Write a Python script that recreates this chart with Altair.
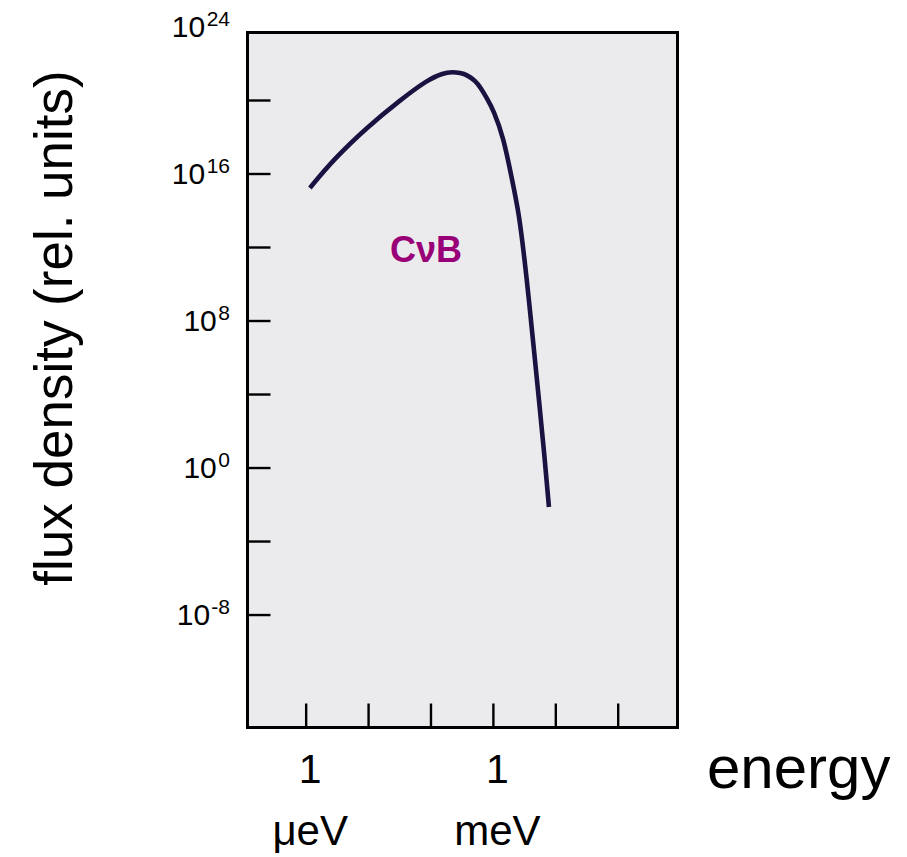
import altair as alt
import pandas as pd

# ---- data (log10 values) ----
energy_log10 = [-5.94, -5.57, -5.02, -4.49, -4.06, -3.80, -3.66, -3.53, -3.42,
                -3.29, -3.21, -3.10, -3.00, -2.84, -2.71, -2.59, -2.50, -2.43,
                -2.35, -2.27, -2.19, -2.11]
flux_log10 = [15.24, 16.76, 18.56, 20.03, 21.12, 21.50, 21.55, 21.50, 21.39,
              21.07, 20.73, 20.10, 19.48, 18.01, 15.84, 13.88, 11.32, 9.14,
              6.42, 3.70, 0.98, -2.12]

ytick_exps = [20, 16, 12, 8, 4, 0, -4, -8]
ylabel_exps = ["24", "16", "8", "0", "-8"]
xtick_exps = [-6, -5, -4, -3, -2, -1]
xlabel_vals = [1e-6, 1e-3]
xlabel_nums = ["1", "1"]
xlabel_units = ["μeV", "meV"]
annotation = "CνB"

W, H = 430, 695
FONT = "Liberation Sans"

curve = pd.DataFrame({"energy": [10 ** e for e in energy_log10],
                      "flux": [10 ** f for f in flux_log10]})
yticks = pd.DataFrame({"flux": [10.0 ** e for e in ytick_exps]})
ylabels = pd.DataFrame({"flux": [10.0 ** int(e) for e in ylabel_exps], "exp": ylabel_exps})
xticks = pd.DataFrame({"energy": [10.0 ** e for e in xtick_exps]})
xlabels = pd.DataFrame({"energy": xlabel_vals, "num": xlabel_nums, "unit": xlabel_units})
one = pd.DataFrame({"t": [0]})

xs = alt.Scale(type="log", domain=[10 ** -6.94, 10 ** -0.05], nice=False)
ys = alt.Scale(type="log", domain=[10 ** -14.12, 10 ** 23.70], nice=False)

line = alt.Chart(curve).mark_line(color="#1a1240", strokeWidth=4.6,
                                  interpolate="basis").encode(
    x=alt.X("energy:Q", scale=xs, axis=None),
    y=alt.Y("flux:Q", scale=ys, axis=None),
)

ytick_marks = alt.Chart(yticks).mark_rule(color="black", strokeWidth=2.4).encode(
    y=alt.Y("flux:Q", scale=ys, axis=None),
    x=alt.value(0), x2=alt.value(23),
)

xtick_marks = alt.Chart(xticks).mark_rule(color="black", strokeWidth=2.4).encode(
    x=alt.X("energy:Q", scale=xs, axis=None),
    y=alt.value(H - 24), y2=alt.value(H),
)

ylab_base = alt.Chart(ylabels).transform_calculate(
    w="length(datum.exp) * 11.7 - (indexof(datum.exp, '-') >= 0 ? 5 : 0)",
    xpos="-17.5 - datum.w - 1.5",
    ten="'10'",
)
ylab_ten = ylab_base.mark_text(font=FONT, fontSize=30, align="right",
                               baseline="alphabetic", dy=10, color="black").encode(
    y=alt.Y("flux:Q", scale=ys, axis=None),
    x=alt.X("xpos:Q", scale=None),
    text="ten:N",
)
ylab_exp = ylab_base.mark_text(font=FONT, fontSize=21, align="right",
                               baseline="alphabetic", dy=-1, color="black").encode(
    y=alt.Y("flux:Q", scale=ys, axis=None),
    x=alt.value(-17.5),
    text="exp:N",
)

xlab_num = alt.Chart(xlabels).mark_text(font=FONT, fontSize=41, baseline="alphabetic",
                                        dx=4, color="black").encode(
    x=alt.X("energy:Q", scale=xs, axis=None),
    y=alt.value(783 - 32.5),
    text="num:N",
)
xlab_unit = alt.Chart(xlabels).mark_text(font=FONT, fontSize=42, baseline="alphabetic",
                                         dx=4, color="black").encode(
    x=alt.X("energy:Q", scale=xs, axis=None),
    y=alt.value(845 - 32.5),
    text="unit:N",
)

ytitle = alt.Chart(one).mark_text(font=FONT, fontSize=53, angle=270, align="center",
                                  baseline="alphabetic", color="black").encode(
    x=alt.value(72 - 247.5), y=alt.value(328 - 32.5),
    text=alt.value("flux density (rel. units)"),
)
xtitle = alt.Chart(one).mark_text(font=FONT, fontSize=60, align="left",
                                  baseline="alphabetic", color="black").encode(
    x=alt.value(707 - 247.5), y=alt.value(788 - 32.5),
    text=alt.value("energy"),
)
cvb = alt.Chart(one).mark_text(font=FONT, fontSize=36, fontWeight="bold", align="center",
                               baseline="alphabetic", color="#990077").encode(
    x=alt.value(426 - 247.5), y=alt.value(262 - 32.5),
    text=alt.value(annotation),
)

chart = alt.layer(
    ytick_marks, xtick_marks, line, ylab_ten, ylab_exp, xlab_num, xlab_unit,
    ytitle, xtitle, cvb,
).properties(
    width=W, height=H,
    autosize=alt.AutoSizeParams(type="none"),
    padding={"left": 247.5, "top": 32.5, "right": 907 - 247.5 - W, "bottom": 857 - 32.5 - H},
    background="white",
).configure_view(
    fill="#ebebee", stroke="black", strokeWidth=3,
)

chart.save("out.html", embed_options={"renderer": "svg", "actions": False})
